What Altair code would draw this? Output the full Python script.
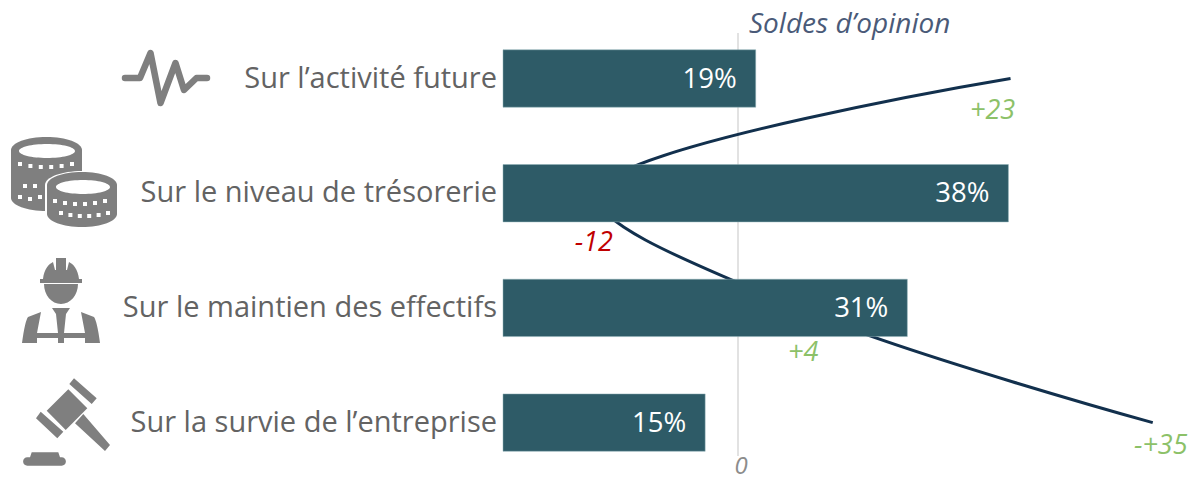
import altair as alt
import pandas as pd

categories = ["Sur l’activité future", "Sur le niveau de trésorerie",
              "Sur le maintien des effectifs", "Sur la survie de l’entreprise"]
bar_values = [19, 38, 30.4, 15.2]
bar_labels = ["19%", "38%", "31%", "15%"]
soldes = [23, -12, 5, 35]
solde_labels = ["+23", "-12", "+4", "-+35"]
solde_colors = ["#8cc168", "#c00000", "#8cc168", "#8cc168"]
solde_offsets = [(-18, 32), (-2, 50), (6, 45), (8, 23)]

FONT = "Open Sans"
W, H = 1180, 470
BAR = "#2e5b67"
ICON = "#7f7f7f"

df = pd.DataFrame({"cat": categories, "val": bar_values, "lab": bar_labels,
                   "solde": soldes, "idx": range(4)})

y_enc = alt.Y("cat:N", sort=categories, axis=None,
              scale=alt.Scale(range=[13.15, 471.95], paddingInner=0.5, paddingOuter=0.25))
x_bar = alt.X("val:Q", axis=None, scale=alt.Scale(domain=[-495 / 13.3, (W - 495) / 13.3], nice=False, zero=False))
x_sol_scale = alt.Scale(domain=[-730 / 11.85, (W - 730) / 11.85], nice=False, zero=False)
x_sol = alt.X("solde:Q", axis=None, scale=x_sol_scale)

zero_df = pd.DataFrame({"z": [0], "t": ["0"]})
rule = alt.Chart(zero_df).mark_rule(color="#d9d9d9", strokeWidth=1.5).encode(
    x=alt.X("z:Q", axis=None, scale=x_sol_scale), y=alt.value(25), y2=alt.value(448))
zero_txt = alt.Chart(zero_df).mark_text(font=FONT, fontStyle="italic", fontSize=24, color="#8c8c8c",
                                        align="center", baseline="middle", dx=3).encode(
    x=alt.X("z:Q", axis=None, scale=x_sol_scale), y=alt.value(459), text="t:N")

line = alt.Chart(df).mark_line(color="#12304d", strokeWidth=3, interpolate="catmull-rom", clip=False).encode(
    x=x_sol, y=y_enc, order=alt.Order("idx:Q"))
bars = alt.Chart(df).mark_bar(color=BAR, stroke="#8fb0b6", strokeWidth=0.5).encode(
    x=x_bar, x2=alt.X2(datum=0), y=y_enc)
val_txt = alt.Chart(df).mark_text(font=FONT, fontSize=27.5, color="white", align="right",
                                  baseline="middle", dx=-19, dy=1).encode(x=x_bar, y=y_enc, text="lab:N")
cat_txt = alt.Chart(df).mark_text(font=FONT, fontSize=29, color="#636363", align="right",
                                  baseline="middle").encode(x=alt.value(489), y=y_enc, text="cat:N")
title = alt.Chart(pd.DataFrame({"t": ["Soldes d’opinion"]})).mark_text(
    font=FONT, fontStyle="italic", fontSize=28, color="#4a5a78", align="left", baseline="middle").encode(
    x=alt.value(741), y=alt.value(17), text="t:N")

sol_layers = []
for lab, val, col, cat, (dx, dy) in zip(solde_labels, soldes, solde_colors, categories, solde_offsets):
    sol_layers.append(
        alt.Chart(pd.DataFrame({"cat": [cat], "solde": [val], "t": [lab]})).mark_text(
            font=FONT, fontStyle="italic", fontSize=27, color=col, align="center", baseline="middle",
            dx=dx, dy=dy).encode(x=x_sol, y=y_enc, text="t:N"))

# ---- icon glyphs (drawn as custom point shapes, size=4 → path units are pixels)
def poly(pts):
    return "M" + " L".join(f"{x:.1f},{y:.1f}" for x, y in pts) + " Z"

def rect(x0, y0, x1, y1):
    return poly([(x0, y0), (x1, y0), (x1, y1), (x0, y1)])

def stack(x0, x1, y0, y1, ry):
    return (f"M{x0},{y0} A{(x1 - x0) / 2},{ry} 0 0 1 {x1},{y0} L{x1},{y1} "
            f"A{(x1 - x0) / 2},{ry} 0 0 1 {x0},{y1} Z")

def ell(cx, cy, rx, ry):
    return f"M{cx - rx},{cy} A{rx},{ry} 0 1 1 {cx + rx},{cy} A{rx},{ry} 0 1 1 {cx - rx},{cy} Z"

def dots(x0, x1, y, n, sag):
    out = []
    for i in range(n):
        t = i / (n - 1)
        x = x0 + (x1 - x0) * t
        yy = y + sag * (1 - (2 * t - 1) ** 2)
        out.append(rect(x - 2, yy - 2, x + 2, yy + 2))
    return " ".join(out)

def icon(path, cx, cy, color=ICON, stroke=False):
    base = alt.Chart(pd.DataFrame({"a": [0]}))
    if stroke:
        m = base.mark_point(shape=path, size=4, filled=False, stroke=color, strokeWidth=6.5,
                            strokeJoin="round", strokeCap="round", opacity=1)
    else:
        m = base.mark_point(shape=path, size=4, filled=True, fill=color, strokeWidth=0, opacity=1)
    return m.encode(x=alt.value(cx - 8), y=alt.value(cy - 8))

pulse = "M-41,0 L-26,0 L-15.5,-25 L-5.5,25 L9.5,-15 L18,12 L30.5,0 L41,0"

# coins, centred on page (64,182)
c1 = stack(-53, 18, -32, 16, 13)
c2w = stack(-19, 55, 3, 32, 14)
c2 = stack(-17, 53, 3, 32, 13)
c_white = " ".join([ell(-17, -31, 28, 7), ell(19, 5, 27, 7),
                    dots(-44, 8, -18, 6, 3), dots(-39, -29, 4, 2, 1), dots(-44, -24, 15, 3, 2),
                    dots(-9, 41, 19, 6, 3), dots(-3, 44, 31, 6, 3)])

# worker, centred on page (61,300)
helmet = ("M-18,-21 C-17,-31 -12,-36 -8,-38 L-6,-30 L-5,-30 L-5,-42 L5,-42 L5,-30 L6,-30 L8,-38 "
          "C12,-36 17,-31 18,-21 Z " + rect(-21, -21, 21, -17))
face = "M-17,-16 L17,-16 A17,20 0 0 1 -17,-16 Z"
vest = ("M-39,43 C-37,28 -35,20 -33,17 L-20,12 L-24,33 L24,33 L20,12 L33,17 C35,20 37,28 39,43 "
        "L24,43 L24,38 L3,38 L3,43 L-3,43 L-3,38 L-24,38 L-24,43 Z "
        "M-9,8 L9,8 L5,14 L3,33 L-3,33 L-5,14 Z")

# gavel, measured on a 3x grid around page (72,395)
def g(x, y):
    return (x / 3 - 72, 250 + y / 3 - 395)

gavel = " ".join([
    poly([g(140, 482), g(205, 418), g(262, 475), g(197, 540)]),
    poly([g(222, 385), g(290, 445), g(275, 462), g(208, 402)]),
    poly([g(122, 485), g(190, 545), g(172, 565), g(108, 505)]),
    poly([g(250, 492), g(330, 585), g(315, 603), g(225, 520)]),
    poly([g(90, 622), g(95, 607), g(175, 607), g(180, 622)]),
    f"M{g(82, 622)[0]:.1f},{g(82, 622)[1]:.1f} L{g(185, 622)[0]:.1f},{g(185, 622)[1]:.1f} "
    f"A4,4 0 0 1 {g(185, 647)[0]:.1f},{g(185, 647)[1]:.1f} L{g(82, 647)[0]:.1f},{g(82, 647)[1]:.1f} "
    f"A4,4 0 0 1 {g(82, 622)[0]:.1f},{g(82, 622)[1]:.1f} Z",
])

icons = [
    icon(pulse, 166, 78, stroke=True),
    icon(c1, 64, 182), icon(c2w, 64, 182, "white"), icon(c2, 64, 182), icon(c_white, 64, 182, "white"),
    icon(helmet + " " + face + " " + vest, 61, 300),
    icon(gavel, 72, 395),
]

chart = alt.layer(rule, line, bars, val_txt, cat_txt, title, zero_txt, *sol_layers, *icons).resolve_scale(
    x="independent"
).properties(width=W, height=H, padding=0, autosize=alt.AutoSizeParams(type="none")).configure_view(stroke=None)

chart.save("out.html", embed_options={"renderer": "svg", "actions": False})
